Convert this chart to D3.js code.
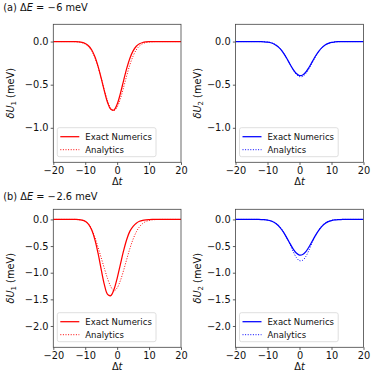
<!DOCTYPE html>
<html><head><meta charset="utf-8">
<script src="https://cdn.jsdelivr.net/npm/d3@7"></script>
<style>
html,body{margin:0;padding:0;background:#fff;}
svg{display:block;font-family:"DejaVu Sans",sans-serif;}
</style></head>
<body>
<svg id="c" width="374" height="376"></svg>
<script>
// time grid (Δt)
const dt = [-20,-19,-18,-17,-16,-15,-14,-13,-12,-11,-10,-9,-8,-7,-6,-5,-4,-3,-2,-1,0,1,2,3,4,5,6,7,8,9,10,11,12,13,14,15,16,17,18,19,20];
// (a) ΔE = -6 meV, δU1
const aU1Exact = [0,0,0,0,0,0,0,0,-0.003,-0.009,-0.022,-0.048,-0.095,-0.173,-0.285,-0.425,-0.575,-0.706,-0.786,-0.794,-0.727,-0.604,-0.455,-0.311,-0.193,-0.108,-0.055,-0.026,-0.011,-0.004,-0.001,0,0,0,0,0,0,0,0,0,0];
const aU1Analytic = [0,0,0,0,0,0,0,-0.002,-0.005,-0.013,-0.029,-0.058,-0.108,-0.185,-0.292,-0.422,-0.562,-0.687,-0.773,-0.800,-0.760,-0.665,-0.534,-0.395,-0.268,-0.168,-0.096,-0.051,-0.025,-0.011,-0.005,-0.002,0,0,0,0,0,0,0,0,0];
// (a) δU2
const aU2Exact = [0,0,0,0,0,0,0,0,-0.001,-0.003,-0.007,-0.014,-0.028,-0.051,-0.085,-0.134,-0.194,-0.260,-0.322,-0.370,-0.394,-0.388,-0.353,-0.298,-0.233,-0.168,-0.113,-0.070,-0.040,-0.021,-0.010,-0.005,-0.002,-0.001,0,0,0,0,0,0,0];
const aU2Analytic = [0,0,0,0,0,0,0,0,-0.001,-0.002,-0.006,-0.012,-0.025,-0.047,-0.081,-0.129,-0.190,-0.259,-0.326,-0.379,-0.407,-0.404,-0.370,-0.314,-0.245,-0.177,-0.118,-0.073,-0.041,-0.022,-0.011,-0.005,-0.002,0,0,0,0,0,0,0,0];
// (b) ΔE = -2.6 meV, δU1
const bU1Exact = [0,0,0,0,0,0,0,-0.001,-0.004,-0.013,-0.036,-0.090,-0.195,-0.374,-0.630,-0.936,-1.223,-1.407,-1.430,-1.316,-1.105,-0.847,-0.592,-0.377,-0.220,-0.130,-0.070,-0.035,-0.016,-0.007,-0.003,-0.001,0,0,0,0,0,0,0,0,0];
const bU1Analytic = [0,0,0,0,0,0,0,0,-0.006,-0.015,-0.037,-0.085,-0.18,-0.33,-0.52,-0.72,-0.92,-1.11,-1.26,-1.34,-1.285,-1.150,-0.961,-0.749,-0.544,-0.370,-0.234,-0.138,-0.076,-0.039,-0.019,-0.008,-0.003,-0.001,0,0,0,0,0,0,0];
// (b) δU2
const bU2Exact = [0,0,0,0,0,0,0,-0.001,-0.003,-0.006,-0.014,-0.028,-0.054,-0.096,-0.157,-0.240,-0.341,-0.450,-0.552,-0.630,-0.668,-0.658,-0.603,-0.513,-0.406,-0.299,-0.205,-0.130,-0.077,-0.042,-0.022,-0.010,-0.004,-0.002,0,0,0,0,0,0,0];
const bU2Analytic = [0,0,0,0,0,0,0,0,-0.002,-0.005,-0.012,-0.025,-0.050,-0.090,-0.145,-0.240,-0.345,-0.465,-0.599,-0.713,-0.774,-0.767,-0.693,-0.572,-0.430,-0.305,-0.205,-0.120,-0.070,-0.038,-0.019,-0.008,-0.003,0,0,0,0,0,0,0,0];

const xTicks = [-20,-10,0,10,20];
const yTicksA = [0,-0.5,-1.0];
const yTicksB = [0,-0.5,-1.0,-1.5,-2.0];
const legendLabels = ["Exact Numerics","Analytics"];
const titleLetters = ["(a)","(b)"];
const titleValues = ["6","2.6"];

const svg = d3.select("#c");
const fmtY = d3.format(".1f");
const minus = s => s.replace("-", "−");

const panels = [
  {x0:53.3,x1:181,y0:24.3,y1:162.3,yd:[-1.4,0.2],yt:yTicksA,col:"#ff0000",ex:aU1Exact,an:aU1Analytic,sub:"1",lx:14},
  {x0:235.5,x1:363.5,y0:24.3,y1:162.3,yd:[-1.4,0.2],yt:yTicksA,col:"#0000ff",ex:aU2Exact,an:aU2Analytic,sub:"2",lx:201},
  {x0:53.3,x1:181,y0:209.3,y1:347.3,yd:[-2.4,0.19],yt:yTicksB,col:"#ff0000",ex:bU1Exact,an:bU1Analytic,sub:"1",lx:14},
  {x0:235.5,x1:363.5,y0:209.3,y1:347.3,yd:[-2.4,0.19],yt:yTicksB,col:"#0000ff",ex:bU2Exact,an:bU2Analytic,sub:"2",lx:201}
];

panels.forEach(p => {
  const x = d3.scaleLinear().domain([-20,20]).range([p.x0,p.x1]);
  const y = d3.scaleLinear().domain(p.yd).range([p.y1,p.y0]);
  const g = svg.append("g");
  const clipId = "clip" + Math.round(p.x0) + "_" + Math.round(p.y0);
  svg.append("clipPath").attr("id", clipId).append("rect")
    .attr("x",p.x0).attr("y",p.y0).attr("width",p.x1-p.x0).attr("height",p.y1-p.y0);

  const line = d3.line().x((d,i)=>x(dt[i])).y(d=>y(d)).curve(d3.curveCatmullRom.alpha(0.5));
  const cg = g.append("g").attr("clip-path",`url(#${clipId})`);
  cg.append("path").attr("d",line(p.ex)).attr("fill","none").attr("stroke",p.col).attr("stroke-width",1.25);
  cg.append("path").attr("d",line(p.an)).attr("fill","none").attr("stroke",p.col).attr("stroke-width",1.0)
    .attr("stroke-dasharray","1,1.6");

  // axes
  const xa = g.append("g").attr("transform",`translate(0,${p.y1})`)
    .call(d3.axisBottom(x).tickValues(xTicks).tickSize(2.6).tickPadding(2.2).tickFormat(d=>minus(String(d))));
  const ya = g.append("g").attr("transform",`translate(${p.x0},0)`)
    .call(d3.axisLeft(y).tickValues(p.yt).tickSize(2.6).tickPadding(2.2).tickFormat(d=>minus(fmtY(d))));
  [xa,ya].forEach(a=>{
    a.select(".domain").remove();
    a.selectAll("line").attr("stroke","#333").attr("stroke-width",0.8);
    a.selectAll("text").attr("font-size",9.8).attr("fill","#111").attr("font-family","DejaVu Sans");
  });

  // frame
  g.append("rect").attr("x",p.x0).attr("y",p.y0).attr("width",p.x1-p.x0).attr("height",p.y1-p.y0)
    .attr("fill","none").attr("stroke","#444").attr("stroke-width",0.8);

  // x label Δt
  const xl = g.append("text").attr("x",(p.x0+p.x1)/2).attr("y",p.y1+22.8)
    .attr("text-anchor","middle").attr("font-size",9.8).attr("fill","#111");
  xl.append("tspan").text("Δ");
  xl.append("tspan").attr("font-style","italic").text("t");

  // y label δU (meV)
  const yl = g.append("text").attr("transform",`translate(${p.lx},${(p.y0+p.y1)/2}) rotate(-90)`)
    .attr("text-anchor","middle").attr("font-size",9.8).attr("fill","#111");
  yl.append("tspan").attr("font-style","italic").text("δU");
  yl.append("tspan").attr("font-size",6.9).attr("dy",2).text(p.sub);
  yl.append("tspan").attr("dy",-2).text(" (meV)");

  // legend
  const lx = p.x0 + 4, ly = p.y1 - 34.6;
  const lg = g.append("g");
  lg.append("rect").attr("x",lx).attr("y",ly).attr("width",98.7).attr("height",29).attr("rx",2)
    .attr("fill","#fff").attr("fill-opacity",0.8).attr("stroke","#d6d6d6").attr("stroke-width",0.8);
  legendLabels.forEach((lab,i)=>{
    const ry = ly + 9 + i*13;
    lg.append("line").attr("x1",lx+3).attr("x2",lx+22).attr("y1",ry).attr("y2",ry)
      .attr("stroke",p.col).attr("stroke-width",i===0?1.25:1.0).attr("stroke-dasharray",i===0?null:"1,1.6");
    lg.append("text").attr("x",lx+28).attr("y",ry+3).attr("font-size",8.5).attr("fill","#111").text(lab);
  });
});

// titles: (a) ΔE = −6 meV, (b) ΔE = −2.6 meV
[[3.3,10.5],[3.3,199.8]].forEach((pos,i)=>{
  const t = svg.append("text").attr("x",pos[0]).attr("y",pos[1]).attr("font-size",9.8).attr("fill","#111");
  t.append("tspan").text(titleLetters[i] + " Δ");
  t.append("tspan").attr("font-style","italic").text("E");
  t.append("tspan").attr("dx",3).text("=");
  t.append("tspan").attr("dx",3.2).text("−");
  t.append("tspan").attr("dx",0.6).text(titleValues[i]);
  t.append("tspan").text(" meV");
});
</script>
</body></html>
